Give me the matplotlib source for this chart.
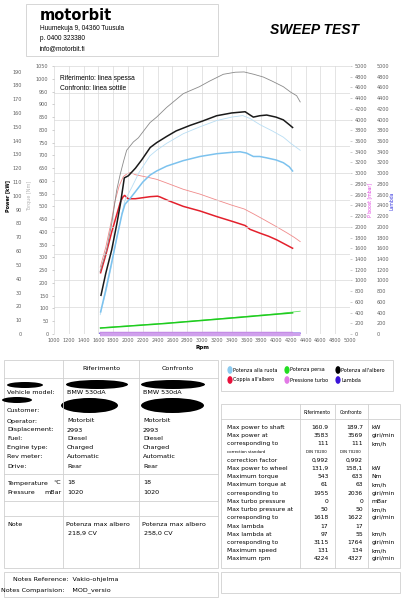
import matplotlib
matplotlib.use("Agg")
import matplotlib.pyplot as plt
from matplotlib.patches import Rectangle, Ellipse, Circle
from matplotlib.lines import Line2D

# ---- curve data (Riferimento = thick, Confronto = thin) ----
rpm_shaft_ref = [1635, 1700, 1780, 1850, 1900, 1950, 2004, 2100, 2185, 2300, 2387, 2522, 2650, 2838, 3000,
                 3198, 3400, 3583, 3650, 3694, 3780, 3874, 4000, 4099, 4180, 4224]
shaft_ref = [28, 44, 61, 80, 95, 113, 114.5, 120, 126, 135, 138.5, 143, 147, 151, 154,
             158, 160, 160.9, 158.5, 157, 158, 158.5, 157, 155, 151.5, 149.5]

rpm_shaft_cmp = [1622, 1712, 1780, 1847, 1892, 1940, 1982, 2072, 2140, 2297, 2387, 2522, 2612, 2747, 2964,
                 3100, 3288, 3450, 3569, 3700, 3829, 3950, 4099, 4200, 4279, 4327]
shaft_cmp = [45, 61, 80, 104, 115, 125, 133, 139, 142, 153, 157, 164, 168, 174, 179,
             183, 188, 189.5, 189.7, 188, 186, 183, 179, 175, 172.5, 168]

rpm_wheel_ref = [1630, 1700, 1780, 1850, 1920, 1960, 2027, 2100, 2200, 2297, 2387, 2522, 2747, 2973, 3198,
                 3400, 3514, 3600, 3694, 3780, 3874, 4000, 4099, 4180, 4224]
wheel_ref = [16, 32, 52, 70, 87, 94, 98, 103, 110, 115, 118, 121.5, 125.5, 128.5, 130.5,
             131.5, 131.9, 131, 128.5, 128.5, 127.5, 126, 124, 121, 118]

rpm_wheel_cmp = [1625, 1700, 1780, 1850, 1920, 1960, 2050, 2150, 2297, 2387, 2522, 2747, 2973, 3198, 3400,
                 3550, 3650, 3784, 3950, 4099, 4200, 4327]
wheel_cmp = [14, 30, 50, 70, 88, 97, 106, 117, 129, 133, 138, 145, 150, 154.5, 157,
             158.1, 156, 151.5, 147, 142.5, 138, 133]

rpm_torque_ref = [1630, 1700, 1780, 1850, 1900, 1935, 1955, 2000, 2100, 2200, 2300, 2400, 2432, 2550, 2658,
                  2747, 2973, 3200, 3423, 3583, 3649, 3784, 3900, 4009, 4120, 4224]
torque_ref = [240, 310, 400, 470, 520, 538, 543, 530, 530, 534, 538, 540, 537, 522, 510,
              500, 482, 460, 440, 425, 410, 395, 383, 369, 352, 336]

rpm_torque_cmp = [1625, 1700, 1780, 1824, 1880, 1937, 1990, 2036, 2100, 2200, 2297, 2387, 2500, 2747, 2973,
                  3198, 3400, 3569, 3700, 3850, 4009, 4150, 4250, 4327]
torque_cmp = [262, 340, 450, 520, 580, 617, 628, 633, 624, 618, 612, 606, 594, 567, 548,
              525, 505, 490, 470, 446, 420, 396, 378, 362]

rpm_lost_ref = [1630, 2000, 2500, 3000, 3500, 4000, 4224]
lost_ref = [4.3, 5.7, 7.6, 9.8, 12.0, 14.3, 15.3]
rpm_lost_cmp = [1625, 2000, 2500, 3000, 3500, 4000, 4327]
lost_cmp = [4.5, 5.9, 7.8, 10.0, 12.3, 14.6, 16.5]

rpm_lambda_ref = [1618, 3115, 4224]
lambda_ref = [12, 17, 14]
rpm_lambda_cmp = [1622, 1764, 4327]
lambda_cmp = [12, 17, 15]

rpm_boost_ref = [1618, 4224]
boost_ref = [0, 0]
rpm_boost_cmp = [1622, 4327]
boost_cmp = [0, 0]

# ---- axis ticks ----
rpm_ticks = list(range(1000, 5001, 200))
power_ticks = list(range(0, 191, 10))
torque_ticks = list(range(0, 1051, 50))
right_ticks = list(range(0, 5001, 200))
grid_levels = list(range(0, 5001, 500))

# ---- report texts ----
legend_items = [("Potenza alla ruota", "#8ccbf0"), ("Potenza persa", "#22dd22"), ("Potenza all'albero", "#000000"),
                ("Coppia all'albero", "#e8103a"), ("Pressione turbo", "#e27ae6"), ("Lambda", "#3a14d8")]

vehicle_rows = [("Vehicle model:", "BMW 530dA", "BMW 530dA"),
                ("Customer:", "", ""),
                ("Operator:", "Motorbit", "Motorbit"),
                ("Displacement:", "2993", "2993"),
                ("Fuel:", "Diesel", "Diesel"),
                ("Engine type:", "Charged", "Charged"),
                ("Rev meter:", "Automatic", "Automatic"),
                ("Drive:", "Rear", "Rear")]
vehicle_y = [393, 411, 421, 430, 438, 448, 457, 466]

result_labels = ["Max power to shaft", "Max power at", "corresponding to", "correction standard",
                 "correction factor", "Max power to wheel", "Maximum torque", "Maximum torque at",
                 "corresponding to", "Max turbo pressure", "Max turbo pressure at", "corresponding to",
                 "Max lambda", "Max lambda at", "corresponding to", "Maximum speed", "Maximum rpm"]
result_ref = ["160.9", "3583", "111", "DIN 70200", "0,992", "131,9", "543", "61", "1955", "0", "50",
              "1618", "17", "97", "3115", "131", "4224"]
result_cmp = ["189.7", "3569", "111", "DIN 70200", "0,992", "158,1", "633", "63", "2036", "0", "50",
              "1622", "17", "55", "1764", "134", "4327"]
result_unit = ["kW", "giri/min", "km/h", "", "", "kW", "Nm", "km/h", "giri/min", "mBar", "km/h",
               "giri/min", "", "km/h", "giri/min", "km/h", "giri/min"]

W, H = 404, 600
fig = plt.figure(figsize=(W / 100, H / 100), dpi=100)
fig.patch.set_facecolor("white")


def fx(x):
    return x / W


def fy(y):
    return 1 - y / H


def txt(x, y, s, size=4.5, **kw):
    kw.setdefault("va", "center")
    kw.setdefault("family", "DejaVu Sans")
    fig.text(fx(x), fy(y), s, fontsize=size, **kw)


def hline(x0, x1, y, color="#d0d0d0", lw=0.6):
    fig.add_artist(Line2D([fx(x0), fx(x1)], [fy(y), fy(y)], transform=fig.transFigure, color=color, lw=lw))


def vline(x, y0, y1, color="#d0d0d0", lw=0.6):
    fig.add_artist(Line2D([fx(x), fx(x)], [fy(y0), fy(y1)], transform=fig.transFigure, color=color, lw=lw))


def box(x0, y0, x1, y1, color="#d0d0d0", lw=0.6):
    fig.add_artist(Rectangle((fx(x0), fy(y1)), fx(x1) - fx(x0), fy(y0) - fy(y1), transform=fig.transFigure,
                             fill=False, edgecolor=color, lw=lw))


def blob(x0, y0, x1, y1):
    fig.add_artist(Ellipse((fx((x0 + x1) / 2), fy((y0 + y1) / 2)), fx(x1) - fx(x0), fy(y0) - fy(y1),
                           transform=fig.transFigure, facecolor="black", edgecolor="none"))


# ---- header ----
box(26, 4, 218, 56)
txt(40, 15, "motorbit", size=10.5, weight="bold", family="DejaVu Sans")
txt(40, 29, "Huumekuja 9, 04360 Tuusula", size=4.7, family="Liberation Sans")
txt(40, 39, "p. 0400 323380", size=4.7, family="Liberation Sans")
txt(40, 49, "info@motorbit.fi", size=4.7, family="Liberation Sans")
txt(314, 30, "SWEEP TEST", size=10, weight="bold", style="italic", family="Liberation Sans", ha="center")

# ---- chart ----
rect = [54 / W, 1 - 334 / H, 296 / W, 268 / H]
tick_col = "#606060"
tsize = 3.5

ax = fig.add_axes(rect)
ax.set_xlim(1000, 5000)
ax.set_ylim(0, 1050)
for s in ax.spines.values():
    s.set_visible(False)
ax.set_xticks(rpm_ticks)
ax.set_xticklabels([str(t) for t in rpm_ticks])
ax.set_yticks(torque_ticks)
ax.tick_params(axis="x", length=0, pad=3, labelsize=tsize, labelcolor=tick_col)
ax.tick_params(axis="y", length=1.5, width=0.4, color="#aaaaaa", pad=2.5, labelsize=tsize, labelcolor=tick_col)
for r in rpm_ticks:
    ax.axvline(r, color="#d9d9d9", lw=0.5, zorder=0)
ax.set_xlabel("Rpm", fontsize=4, weight="bold", labelpad=1.5)

# boost axis (right) holds the horizontal grid
axb = fig.add_axes(rect, sharex=ax)
axb.patch.set_visible(False)
for s in axb.spines.values():
    s.set_visible(False)
axb.set_ylim(0, 5000)
for g in grid_levels:
    axb.axhline(g, color="#d9d9d9", lw=0.5, zorder=0)
axb.yaxis.tick_right()
axb.set_yticks(right_ticks)
axb.tick_params(axis="y", length=1.5, width=0.4, color="#aaaaaa", pad=2, labelsize=tsize, labelcolor=tick_col)
axb.tick_params(axis="x", bottom=False, labelbottom=False)

# lambda axis (far right)
axl = fig.add_axes(rect, sharex=ax)
axl.patch.set_visible(False)
for s in axl.spines.values():
    s.set_visible(False)
axl.set_ylim(0, 5000)
axl.yaxis.tick_right()
axl.set_yticks(right_ticks)
axl.tick_params(axis="y", length=0, pad=19, labelsize=tsize, labelcolor=tick_col)
axl.tick_params(axis="x", bottom=False, labelbottom=False)

# power axis (far left)
axp = fig.add_axes(rect, sharex=ax)
axp.patch.set_visible(False)
for s in axp.spines.values():
    s.set_visible(False)
axp.set_ylim(0, 194)
axp.set_yticks(power_ticks)
axp.tick_params(axis="y", length=0, pad=23, labelsize=tsize, labelcolor=tick_col)
axp.tick_params(axis="x", bottom=False, labelbottom=False)

thick, thin = 1.1, 0.6
axl.plot(rpm_lambda_ref, lambda_ref, color="#3a14d8", lw=1.6, solid_capstyle="butt")
axl.plot(rpm_lambda_cmp, lambda_cmp, color="#3a14d8", lw=0.8)
# boost shares the 0-5000 scale, drawn on top of lambda
axl.plot(rpm_boost_ref, boost_ref, color="#c48ce6", lw=3.2, solid_capstyle="butt", clip_on=False)
axl.plot(rpm_boost_cmp, boost_cmp, color="#cfa0ec", lw=2.2, solid_capstyle="butt", clip_on=False)

axp.plot(rpm_lost_cmp, lost_cmp, color="#66e266", lw=thin)
axp.plot(rpm_lost_ref, lost_ref, color="#1fcc1f", lw=thick)

ax.plot(rpm_torque_cmp, torque_cmp, color="#f08a8a", lw=thin)
ax.plot(rpm_torque_ref, torque_ref, color="#e3202c", lw=thick)

axp.plot(rpm_wheel_cmp, wheel_cmp, color="#b9def4", lw=thin)
axp.plot(rpm_wheel_ref, wheel_ref, color="#7cc2ee", lw=thick)
axp.plot(rpm_shaft_cmp, shaft_cmp, color="#8a8a8a", lw=thin)
axp.plot(rpm_shaft_ref, shaft_ref, color="#1a1a1a", lw=thick)

axp.text(0.02, 0.955, "Riferimento: linea spessa", transform=axp.transAxes, fontsize=4.8,
         family="Liberation Sans", va="center")
axp.text(0.02, 0.915, "Confronto: linea sottile", transform=axp.transAxes, fontsize=4.8,
         family="Liberation Sans", va="center")

txt(8, 196, "Power [kW]", size=3.5, weight="bold", rotation=90, ha="center")
txt(30, 196, "Torque [Nm]", size=3.5, color="#b4b4b4", rotation=90, ha="center")
txt(370, 200, "P boost [mbar]", size=3.3, color="#e040e0", rotation=90, ha="center")
txt(392, 201, "Lambda", size=3.3, color="#3a3ae0", rotation=90, ha="center")

# ---- legend box ----
box(221, 360, 393, 391)
leg_x = [230, 287, 338]
leg_y = [370, 380]
for i, (name, col) in enumerate(legend_items):
    cx, cy = leg_x[i % 3], leg_y[i // 3]
    fig.add_artist(Circle((fx(cx), fy(cy)), 2.6 / W, transform=fig.transFigure,
                          facecolor=col, edgecolor="none"))
    txt(cx + 3, cy, name, size=3.5)

# ---- vehicle table ----
box(4, 360, 218, 568)
vline(63, 360, 568)
vline(139, 360, 568)
hline(4, 218, 378)
hline(4, 218, 474)
hline(4, 218, 501)
hline(4, 218, 516)
txt(101, 369, "Riferimento", size=4.6, ha="center")
txt(178, 369, "Confronto", size=4.6, ha="center")
blob(7, 382, 43, 388)
blob(66, 380, 128, 389)
blob(141, 380, 205, 389)
blob(2, 397, 32, 403)
blob(61, 398, 118, 413)
blob(141, 398, 204, 413)
for (lab, v1, v2), y in zip(vehicle_rows, vehicle_y):
    txt(7, y, lab, size=4.6)
    txt(67, y, v1, size=4.6)
    txt(143, y, v2, size=4.6)
txt(7, 483, "Temperature", size=4.6)
txt(61, 483, "°C", size=4.6, ha="right")
txt(7, 492, "Pressure", size=4.6)
txt(62, 492, "mBar", size=4.6, ha="right")
txt(67, 483, "18", size=4.6)
txt(143, 483, "18", size=4.6)
txt(67, 492, "1020", size=4.6)
txt(143, 492, "1020", size=4.6)
txt(7, 524, "Note", size=4.6)
txt(66, 524, "Potenza max albero", size=4.6)
txt(66, 533, " 218,9 CV", size=4.6)
txt(142, 524, "Potenza max albero", size=4.6)
txt(142, 533, " 258,0 CV", size=4.6)

# ---- notes box ----
box(4, 572, 218, 597)
txt(13, 579, "Notes Reference:  Vakio-ohjelma", size=4.6)
txt(1, 590, "Notes Comparision:    MOD_versio", size=4.6)
box(221, 572, 400, 593)

# ---- results table ----
box(221, 404, 400, 568)
vline(300, 404, 568)
vline(335, 404, 568)
vline(368, 404, 568)
hline(221, 400, 419)
txt(317.5, 412, "Riferimento", size=3.3, ha="center")
txt(351.5, 412, "Confronto", size=3.3, ha="center")
row_y = 427.3
for lab, v1, v2, u in zip(result_labels, result_ref, result_cmp, result_unit):
    small = lab == "correction standard"
    sz = 2.8 if small else 4.3
    txt(226.5, row_y, lab, size=sz)
    txt(328.5 if not small else 327, row_y, v1, size=sz, ha="right")
    txt(363 if not small else 361, row_y, v2, size=sz, ha="right")
    if u:
        txt(371.5, row_y, u, size=4.3)
    row_y += 8.23

fig.savefig("out.png", dpi=100, facecolor="white")
